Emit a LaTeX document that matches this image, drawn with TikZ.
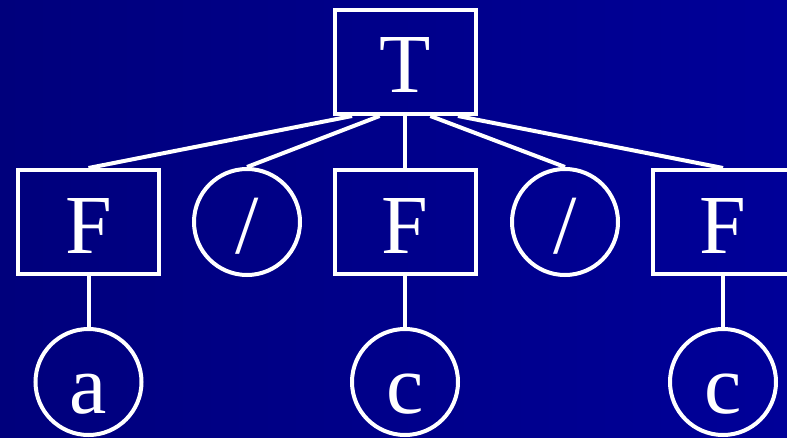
\documentclass[tikz,border=0pt]{standalone}
\usepackage{fontspec}
\setmainfont{Liberation Serif}
\usetikzlibrary{calc}
\definecolor{bgleft}{RGB}{0,0,124}
\definecolor{bgright}{RGB}{0,0,152}
\begin{document}
\begin{tikzpicture}[x=1pt,y=1pt,
  every node/.style={text=white,font=\fontsize{84}{96}\selectfont,
    text height=62pt,text depth=0pt,inner sep=0pt},
  boxnode/.style={draw=white,line width=4pt,rectangle,minimum width=141pt,minimum height=104pt},
  circnode/.style={draw=white,line width=4pt,circle,minimum size=106pt},
  edge/.style={draw=white,line width=4pt}]
\shade[left color=bgleft,right color=bgright] (0,0) rectangle (787,437);
\useasboundingbox (0,0) rectangle (787,437);
\node[boxnode] (T) at (405,375) {T};
\node[boxnode] (F1) at (88.5,215) {F};
\node[circnode] (S1) at (247,215) {/};
\node[boxnode] (F2) at (405,215) {F};
\node[circnode] (S2) at (565,215) {/};
\node[boxnode] (F3) at (723,215) {F};
\node[circnode] (A) at (88.5,55) {a};
\node[circnode] (C1) at (405,55) {c};
\node[circnode] (C2) at (723,55) {c};
\draw[edge] ($(T.south)!0.73!(T.south west)$) -- (F1.north);
\draw[edge] ($(T.south)!0.35!(T.south west)$) -- (S1.north);
\draw[edge] (T.south) -- (F2.north);
\draw[edge] ($(T.south)!0.35!(T.south east)$) -- (S2.north);
\draw[edge] ($(T.south)!0.73!(T.south east)$) -- (F3.north);
\draw[edge] (F1.south) -- (A.north);
\draw[edge] (F2.south) -- (C1.north);
\draw[edge] (F3.south) -- (C2.north);
\end{tikzpicture}
\end{document}
